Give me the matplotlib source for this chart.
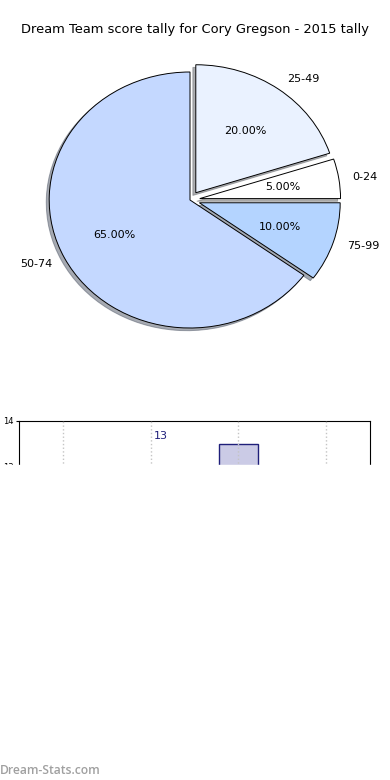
import matplotlib
matplotlib.use("Agg")
import matplotlib.pyplot as plt
from matplotlib.patches import Rectangle

# pie data
labels = ["0-24", "25-49", "50-74", "75-99"]
shares = [5, 20, 65, 10]
colors = ["#ffffff", "#eaf2ff", "#c4d8ff", "#b4d4ff"]
explode = [0.07, 0.07, 0.0, 0.07]

# bar data (only the top of the chart is visible)
bar_pos = [1, 2]
bar_vals = [13.0, 13.5]
bar_text = ["13", ""]
n_cats = 4

fig = plt.figure(figsize=(3.9, 7.8), dpi=100)
fig.text(0.5, 1 - 30 / 780, "Dream Team score tally for Cory Gregson - 2015 tally",
         ha="center", va="center", fontsize=9.4)

ax = fig.add_axes([14 / 390, 1 - 360 / 780, 352 / 390, 320 / 780])
wedges, texts, autotexts = ax.pie(
    shares, labels=labels, colors=colors, explode=explode, startangle=0,
    autopct="%.2f%%", pctdistance=0.6, labeldistance=1.1,
    shadow=dict(ox=-0.015, oy=-0.015, shade=0.6),
    wedgeprops=dict(edgecolor="black", linewidth=0.7),
    textprops=dict(fontsize=8))
ax.set_aspect("auto")
ax.set_xlim(-1.25, 1.25)
ax.set_ylim(-1.25, 1.25)

# bar chart, cut off below
bx = fig.add_axes([19 / 390, 1 - 511 / 780, 351 / 390, 90 / 780])
bx.bar([2], [13.5], width=0.45, color="#cbcbe6", edgecolor="#1f1f7a", linewidth=1, zorder=1)
for p, v, t in zip(bar_pos, bar_vals, bar_text):
    if t:
        bx.text(p + 0.04, v + 0.67, t, color="#1f1f7a", fontsize=8, va="center", ha="left")
bx.set_xlim(-0.5, n_cats - 0.5)
bx.set_ylim(12, 14)
bx.set_yticks([12, 13, 14])
bx.set_yticklabels(["12", "13", "14"], fontsize=6)
bx.set_xticks(range(n_cats))
bx.set_xticklabels([])
bx.tick_params(axis="x", length=0)
bx.tick_params(axis="y", length=2, pad=2)
bx.grid(axis="x", color="#c4c4c4", linestyle=":", linewidth=1, zorder=2)
bx.set_axisbelow(False)

# white cover imitating the cropped render
fig.add_artist(Rectangle((0, 20 / 780), 1, 1 - 465 / 780 - 20 / 780,
                         transform=fig.transFigure, color="white", zorder=10))

fig.text(0.0, 1 - 770 / 780, "Dream-Stats.com", color="#a0a0a0", fontsize=8.7,
         fontweight="semibold", family="Open Sans", ha="left", va="center", zorder=11)

fig.savefig("out.png", dpi=100)
